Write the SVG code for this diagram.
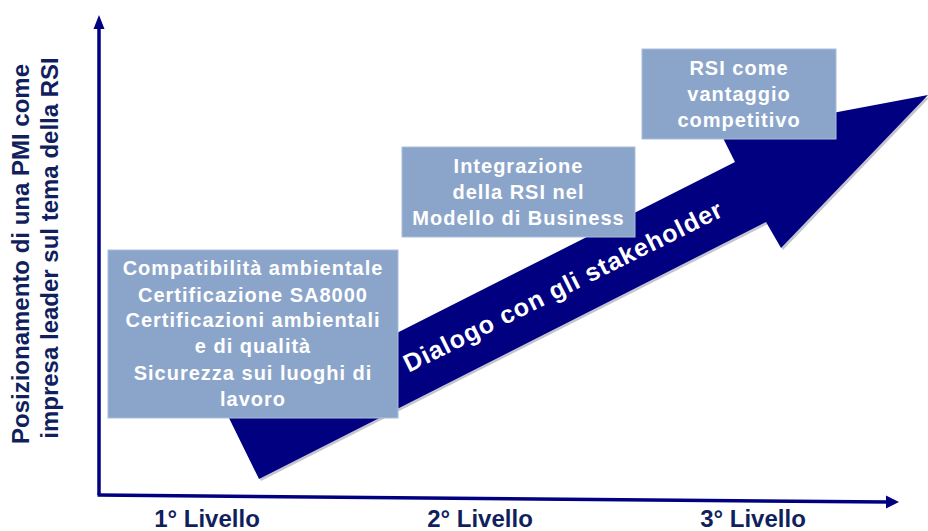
<svg xmlns="http://www.w3.org/2000/svg" width="928" height="531" viewBox="0 0 928 531">
<defs>
<style>
.axis{stroke:#000080;stroke-width:3.5;fill:none}
.head{fill:#000080}
.box{fill:#8ba5ca;stroke:#a9bedb;stroke-width:1}
.bt{font-family:"Liberation Sans",Arial,sans-serif;font-weight:bold;font-size:20px;fill:#ffffff;text-anchor:middle;letter-spacing:1px}
.lab{font-family:"Liberation Sans",Arial,sans-serif;font-weight:bold;font-size:24px;fill:#111f5e;text-anchor:middle}
.dlg{font-family:"Liberation Sans",Arial,sans-serif;font-weight:bold;font-size:25px;fill:#ffffff;text-anchor:middle;letter-spacing:1px}
</style>
</defs>
<rect width="928" height="531" fill="#ffffff"/>

<g id="axes">
<line class="axis" x1="99" y1="495" x2="99" y2="26"/>
<polygon class="head" points="99,15 93.5,29 104.5,29"/>
<line class="axis" x1="97.5" y1="495" x2="888" y2="502"/>
<polygon class="head" points="899,502 886,495.5 886,508.5"/>
</g>

<g id="y-title">
<text class="lab" transform="translate(29,254) rotate(-90)">Posizionamento di una PMI come</text>
<text class="lab" transform="translate(58,248) rotate(-90)">impresa leader sul tema della RSI</text>
</g>

<g id="levels">
<text class="lab" x="207" y="527">1° Livello</text>
<text class="lab" x="480" y="527">2° Livello</text>
<text class="lab" x="753" y="527">3° Livello</text>
</g>

<g id="big-arrow">
<polygon points="231,420 737,164 723,136 930,97 783,250 768,224 261,481" fill="#7a7a9a" opacity="0.45"/>
<polygon points="229,418 735,162 721,134 928,95 781,248 766,222 259,479" fill="#000080"/>
<text class="dlg" transform="translate(567,294) rotate(-26.5)">Dialogo con gli stakeholder</text>
</g>

<g id="box-level1">
<rect class="box" x="108" y="250" width="290" height="168"/>
<text class="bt" x="253" y="275">Compatibilità ambientale</text>
<text class="bt" x="253" y="302">Certificazione SA8000</text>
<text class="bt" x="253" y="327">Certificazioni ambientali</text>
<text class="bt" x="253" y="353">e di qualità</text>
<text class="bt" x="253" y="380">Sicurezza sui luoghi di</text>
<text class="bt" x="253" y="406">lavoro</text>
</g>

<g id="box-level2">
<rect class="box" x="402" y="147" width="233" height="90"/>
<text class="bt" x="518.5" y="173">Integrazione</text>
<text class="bt" x="518.5" y="199">della RSI nel</text>
<text class="bt" x="518.5" y="225">Modello di Business</text>
</g>

<g id="box-level3">
<rect class="box" x="642" y="49" width="194" height="90"/>
<text class="bt" x="739" y="75">RSI come</text>
<text class="bt" x="739" y="101">vantaggio</text>
<text class="bt" x="739" y="127">competitivo</text>
</g>
</svg>
